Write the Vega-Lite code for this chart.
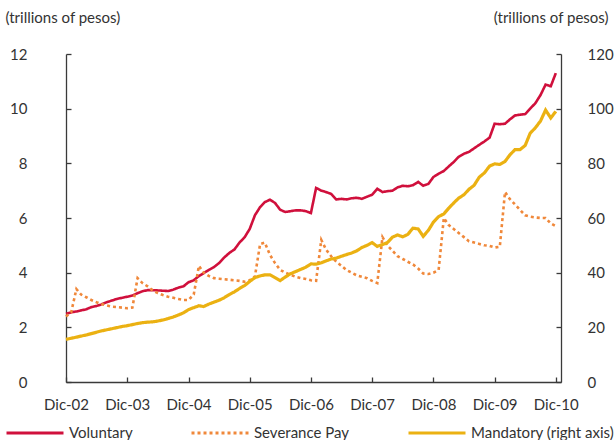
{
  "$schema": "https://vega.github.io/schema/vega-lite/v6.json",
  "width": 495,
  "height": 328,
  "autosize": {"type": "none"},
  "padding": {"left": 66, "top": 54, "right": 55, "bottom": 58},
  "config": {
    "font": "Lato",
    "view": {"stroke": null},
    "axis": {
      "grid": false,
      "domainColor": "#3a3a3a",
      "tickColor": "#3a3a3a",
      "domainWidth": 1.3,
      "tickWidth": 1.3,
      "labelColor": "#333333",
      "labelFont": "Lato",
      "labelFontSize": 15,
      "titleFont": "Lato",
      "titleFontSize": 15,
      "titleFontWeight": "normal",
      "titleColor": "#333333"
    },
    "legend": {
      "orient": "none",
      "legendX": -61,
      "legendY": 349,
      "direction": "horizontal",
      "columns": 3,
      "gridAlign": "none",
      "columnPadding": 52,
      "symbolType": "stroke",
      "symbolSize": 3249,
      "symbolStrokeWidth": 3,
      "labelFont": "Lato",
      "labelFontSize": 15,
      "labelColor": "#333333",
      "labelOffset": 4,
      "labelLimit": 300
    }
  },
  "data": {
    "values": [
      {"date": "2002-12-01", "Voluntary": 2.50, "Severance Pay": 2.40, "Mandatory (right axis)": 15.6},
      {"date": "2003-01-01", "Voluntary": 2.55, "Severance Pay": 2.55, "Mandatory (right axis)": 16.0},
      {"date": "2003-02-01", "Voluntary": 2.58, "Severance Pay": 3.40, "Mandatory (right axis)": 16.4},
      {"date": "2003-03-01", "Voluntary": 2.62, "Severance Pay": 3.20, "Mandatory (right axis)": 16.8},
      {"date": "2003-04-01", "Voluntary": 2.66, "Severance Pay": 3.10, "Mandatory (right axis)": 17.2},
      {"date": "2003-05-01", "Voluntary": 2.74, "Severance Pay": 3.00, "Mandatory (right axis)": 17.7},
      {"date": "2003-06-01", "Voluntary": 2.78, "Severance Pay": 2.92, "Mandatory (right axis)": 18.2},
      {"date": "2003-07-01", "Voluntary": 2.84, "Severance Pay": 2.85, "Mandatory (right axis)": 18.7},
      {"date": "2003-08-01", "Voluntary": 2.92, "Severance Pay": 2.80, "Mandatory (right axis)": 19.1},
      {"date": "2003-09-01", "Voluntary": 2.98, "Severance Pay": 2.76, "Mandatory (right axis)": 19.5},
      {"date": "2003-10-01", "Voluntary": 3.04, "Severance Pay": 2.74, "Mandatory (right axis)": 19.9},
      {"date": "2003-11-01", "Voluntary": 3.08, "Severance Pay": 2.72, "Mandatory (right axis)": 20.3},
      {"date": "2003-12-01", "Voluntary": 3.12, "Severance Pay": 2.70, "Mandatory (right axis)": 20.6},
      {"date": "2004-01-01", "Voluntary": 3.16, "Severance Pay": 2.72, "Mandatory (right axis)": 21.0},
      {"date": "2004-02-01", "Voluntary": 3.25, "Severance Pay": 3.80, "Mandatory (right axis)": 21.4},
      {"date": "2004-03-01", "Voluntary": 3.32, "Severance Pay": 3.62, "Mandatory (right axis)": 21.7},
      {"date": "2004-04-01", "Voluntary": 3.36, "Severance Pay": 3.50, "Mandatory (right axis)": 21.9},
      {"date": "2004-05-01", "Voluntary": 3.36, "Severance Pay": 3.35, "Mandatory (right axis)": 22.0},
      {"date": "2004-06-01", "Voluntary": 3.35, "Severance Pay": 3.25, "Mandatory (right axis)": 22.3},
      {"date": "2004-07-01", "Voluntary": 3.34, "Severance Pay": 3.18, "Mandatory (right axis)": 22.7},
      {"date": "2004-08-01", "Voluntary": 3.33, "Severance Pay": 3.12, "Mandatory (right axis)": 23.2},
      {"date": "2004-09-01", "Voluntary": 3.38, "Severance Pay": 3.08, "Mandatory (right axis)": 23.8},
      {"date": "2004-10-01", "Voluntary": 3.45, "Severance Pay": 3.04, "Mandatory (right axis)": 24.5},
      {"date": "2004-11-01", "Voluntary": 3.50, "Severance Pay": 3.00, "Mandatory (right axis)": 25.3},
      {"date": "2004-12-01", "Voluntary": 3.65, "Severance Pay": 3.00, "Mandatory (right axis)": 26.5},
      {"date": "2005-01-01", "Voluntary": 3.72, "Severance Pay": 3.20, "Mandatory (right axis)": 27.2},
      {"date": "2005-02-01", "Voluntary": 3.88, "Severance Pay": 4.25, "Mandatory (right axis)": 27.9},
      {"date": "2005-03-01", "Voluntary": 3.98, "Severance Pay": 4.00, "Mandatory (right axis)": 27.6},
      {"date": "2005-04-01", "Voluntary": 4.10, "Severance Pay": 3.88, "Mandatory (right axis)": 28.5},
      {"date": "2005-05-01", "Voluntary": 4.20, "Severance Pay": 3.80, "Mandatory (right axis)": 29.2},
      {"date": "2005-06-01", "Voluntary": 4.35, "Severance Pay": 3.78, "Mandatory (right axis)": 29.9},
      {"date": "2005-07-01", "Voluntary": 4.55, "Severance Pay": 3.76, "Mandatory (right axis)": 30.8},
      {"date": "2005-08-01", "Voluntary": 4.72, "Severance Pay": 3.74, "Mandatory (right axis)": 32.0},
      {"date": "2005-09-01", "Voluntary": 4.85, "Severance Pay": 3.72, "Mandatory (right axis)": 33.0},
      {"date": "2005-10-01", "Voluntary": 5.10, "Severance Pay": 3.70, "Mandatory (right axis)": 34.2},
      {"date": "2005-11-01", "Voluntary": 5.30, "Severance Pay": 3.67, "Mandatory (right axis)": 35.3},
      {"date": "2005-12-01", "Voluntary": 5.60, "Severance Pay": 3.72, "Mandatory (right axis)": 36.8},
      {"date": "2006-01-01", "Voluntary": 6.10, "Severance Pay": 3.86, "Mandatory (right axis)": 38.2},
      {"date": "2006-02-01", "Voluntary": 6.40, "Severance Pay": 5.05, "Mandatory (right axis)": 38.8},
      {"date": "2006-03-01", "Voluntary": 6.58, "Severance Pay": 5.10, "Mandatory (right axis)": 39.2},
      {"date": "2006-04-01", "Voluntary": 6.67, "Severance Pay": 4.65, "Mandatory (right axis)": 39.2},
      {"date": "2006-05-01", "Voluntary": 6.55, "Severance Pay": 4.35, "Mandatory (right axis)": 38.2},
      {"date": "2006-06-01", "Voluntary": 6.30, "Severance Pay": 4.10, "Mandatory (right axis)": 37.1},
      {"date": "2006-07-01", "Voluntary": 6.22, "Severance Pay": 4.00, "Mandatory (right axis)": 38.4},
      {"date": "2006-08-01", "Voluntary": 6.25, "Severance Pay": 3.92, "Mandatory (right axis)": 39.6},
      {"date": "2006-09-01", "Voluntary": 6.28, "Severance Pay": 3.85, "Mandatory (right axis)": 40.4},
      {"date": "2006-10-01", "Voluntary": 6.28, "Severance Pay": 3.80, "Mandatory (right axis)": 41.2},
      {"date": "2006-11-01", "Voluntary": 6.25, "Severance Pay": 3.77, "Mandatory (right axis)": 42.0},
      {"date": "2006-12-01", "Voluntary": 6.18, "Severance Pay": 3.72, "Mandatory (right axis)": 43.2},
      {"date": "2007-01-01", "Voluntary": 7.10, "Severance Pay": 3.70, "Mandatory (right axis)": 43.1},
      {"date": "2007-02-01", "Voluntary": 7.00, "Severance Pay": 5.20, "Mandatory (right axis)": 43.6},
      {"date": "2007-03-01", "Voluntary": 6.95, "Severance Pay": 4.85, "Mandatory (right axis)": 44.3},
      {"date": "2007-04-01", "Voluntary": 6.88, "Severance Pay": 4.60, "Mandatory (right axis)": 45.0},
      {"date": "2007-05-01", "Voluntary": 6.68, "Severance Pay": 4.40, "Mandatory (right axis)": 45.3},
      {"date": "2007-06-01", "Voluntary": 6.70, "Severance Pay": 4.25, "Mandatory (right axis)": 46.0},
      {"date": "2007-07-01", "Voluntary": 6.68, "Severance Pay": 4.10, "Mandatory (right axis)": 46.6},
      {"date": "2007-08-01", "Voluntary": 6.72, "Severance Pay": 4.00, "Mandatory (right axis)": 47.2},
      {"date": "2007-09-01", "Voluntary": 6.74, "Severance Pay": 3.90, "Mandatory (right axis)": 48.0},
      {"date": "2007-10-01", "Voluntary": 6.70, "Severance Pay": 3.85, "Mandatory (right axis)": 49.2},
      {"date": "2007-11-01", "Voluntary": 6.78, "Severance Pay": 3.80, "Mandatory (right axis)": 50.0},
      {"date": "2007-12-01", "Voluntary": 6.85, "Severance Pay": 3.70, "Mandatory (right axis)": 51.0},
      {"date": "2008-01-01", "Voluntary": 7.07, "Severance Pay": 3.62, "Mandatory (right axis)": 49.6},
      {"date": "2008-02-01", "Voluntary": 6.95, "Severance Pay": 5.30, "Mandatory (right axis)": 50.3},
      {"date": "2008-03-01", "Voluntary": 6.98, "Severance Pay": 5.00, "Mandatory (right axis)": 51.0},
      {"date": "2008-04-01", "Voluntary": 7.00, "Severance Pay": 4.80, "Mandatory (right axis)": 53.0},
      {"date": "2008-05-01", "Voluntary": 7.12, "Severance Pay": 4.60, "Mandatory (right axis)": 53.8},
      {"date": "2008-06-01", "Voluntary": 7.18, "Severance Pay": 4.50, "Mandatory (right axis)": 53.1},
      {"date": "2008-07-01", "Voluntary": 7.16, "Severance Pay": 4.40, "Mandatory (right axis)": 54.0},
      {"date": "2008-08-01", "Voluntary": 7.20, "Severance Pay": 4.30, "Mandatory (right axis)": 56.3},
      {"date": "2008-09-01", "Voluntary": 7.32, "Severance Pay": 4.15, "Mandatory (right axis)": 56.0},
      {"date": "2008-10-01", "Voluntary": 7.18, "Severance Pay": 3.97, "Mandatory (right axis)": 53.3},
      {"date": "2008-11-01", "Voluntary": 7.25, "Severance Pay": 3.95, "Mandatory (right axis)": 55.5},
      {"date": "2008-12-01", "Voluntary": 7.50, "Severance Pay": 4.00, "Mandatory (right axis)": 58.5},
      {"date": "2009-01-01", "Voluntary": 7.62, "Severance Pay": 4.10, "Mandatory (right axis)": 60.5},
      {"date": "2009-02-01", "Voluntary": 7.72, "Severance Pay": 6.00, "Mandatory (right axis)": 61.5},
      {"date": "2009-03-01", "Voluntary": 7.88, "Severance Pay": 5.75, "Mandatory (right axis)": 63.5},
      {"date": "2009-04-01", "Voluntary": 8.05, "Severance Pay": 5.60, "Mandatory (right axis)": 65.5},
      {"date": "2009-05-01", "Voluntary": 8.24, "Severance Pay": 5.45, "Mandatory (right axis)": 67.3},
      {"date": "2009-06-01", "Voluntary": 8.35, "Severance Pay": 5.30, "Mandatory (right axis)": 68.5},
      {"date": "2009-07-01", "Voluntary": 8.42, "Severance Pay": 5.15, "Mandatory (right axis)": 70.5},
      {"date": "2009-08-01", "Voluntary": 8.55, "Severance Pay": 5.10, "Mandatory (right axis)": 72.0},
      {"date": "2009-09-01", "Voluntary": 8.68, "Severance Pay": 5.05, "Mandatory (right axis)": 75.0},
      {"date": "2009-10-01", "Voluntary": 8.80, "Severance Pay": 5.00, "Mandatory (right axis)": 76.5},
      {"date": "2009-11-01", "Voluntary": 8.94, "Severance Pay": 4.98, "Mandatory (right axis)": 79.0},
      {"date": "2009-12-01", "Voluntary": 9.45, "Severance Pay": 4.92, "Mandatory (right axis)": 79.8},
      {"date": "2010-01-01", "Voluntary": 9.43, "Severance Pay": 4.95, "Mandatory (right axis)": 79.6},
      {"date": "2010-02-01", "Voluntary": 9.45, "Severance Pay": 6.95, "Mandatory (right axis)": 80.7},
      {"date": "2010-03-01", "Voluntary": 9.60, "Severance Pay": 6.70, "Mandatory (right axis)": 83.0},
      {"date": "2010-04-01", "Voluntary": 9.75, "Severance Pay": 6.50, "Mandatory (right axis)": 85.0},
      {"date": "2010-05-01", "Voluntary": 9.78, "Severance Pay": 6.30, "Mandatory (right axis)": 85.0},
      {"date": "2010-06-01", "Voluntary": 9.80, "Severance Pay": 6.10, "Mandatory (right axis)": 86.5},
      {"date": "2010-07-01", "Voluntary": 10.00, "Severance Pay": 6.05, "Mandatory (right axis)": 91.0},
      {"date": "2010-08-01", "Voluntary": 10.20, "Severance Pay": 6.02, "Mandatory (right axis)": 93.0},
      {"date": "2010-09-01", "Voluntary": 10.50, "Severance Pay": 6.00, "Mandatory (right axis)": 95.5},
      {"date": "2010-10-01", "Voluntary": 10.88, "Severance Pay": 6.00, "Mandatory (right axis)": 99.5},
      {"date": "2010-11-01", "Voluntary": 10.82, "Severance Pay": 5.80, "Mandatory (right axis)": 96.6},
      {"date": "2010-12-01", "Voluntary": 11.30, "Severance Pay": 5.70, "Mandatory (right axis)": 99.0}
    ]
  },
  "encoding": {
    "x": {
      "field": "date",
      "type": "temporal",
      "scale": {
        "type": "utc",
        "domain": [
          {"year": 2002, "month": 12, "date": 1, "utc": true},
          {"year": 2011, "month": 1, "date": 1, "utc": true}
        ]
      },
      "axis": {
        "title": null,
        "values": [
          {"year": 2002, "month": 12, "date": 1, "utc": true},
          {"year": 2003, "month": 12, "date": 1, "utc": true},
          {"year": 2004, "month": 12, "date": 1, "utc": true},
          {"year": 2005, "month": 12, "date": 1, "utc": true},
          {"year": 2006, "month": 12, "date": 1, "utc": true},
          {"year": 2007, "month": 12, "date": 1, "utc": true},
          {"year": 2008, "month": 12, "date": 1, "utc": true},
          {"year": 2009, "month": 12, "date": 1, "utc": true},
          {"year": 2010, "month": 12, "date": 1, "utc": true}
        ],
        "labelExpr": "'Dic-' + utcFormat(datum.value, '%y')",
        "tickSize": -5,
        "labelPadding": 20,
        "labelFlush": false,
        "labelOverlap": false
      }
    }
  },
  "layer": [
    {
      "transform": [{"fold": ["Voluntary", "Severance Pay"], "as": ["series", "value"]}],
      "mark": {"type": "line", "strokeWidth": 2.6, "strokeCap": "butt"},
      "encoding": {
        "y": {
          "field": "value",
          "type": "quantitative",
          "scale": {"domain": [0, 12], "nice": false, "zero": true},
          "axis": {
            "orient": "left",
            "values": [0, 2, 4, 6, 8, 10, 12],
            "tickSize": -5,
            "labelPadding": 44,
            "labelAlign": "right",
            "title": "(trillions of pesos)",
            "titleAngle": 0,
            "titleAlign": "left",
            "titleBaseline": "alphabetic",
            "titleAnchor": null,
            "titleX": -61,
            "titleY": -32
          }
        },
        "color": {
          "field": "series",
          "type": "nominal",
          "scale": {
            "domain": ["Voluntary", "Severance Pay", "Mandatory (right axis)"],
            "range": ["#D0103C", "#F0883A", "#EBB112"]
          },
          "legend": {"title": null}
        },
        "strokeDash": {
          "field": "series",
          "type": "nominal",
          "scale": {
            "domain": ["Voluntary", "Severance Pay", "Mandatory (right axis)"],
            "range": [[1, 0], [3, 3], [1, 0]]
          },
          "legend": {"title": null}
        }
      }
    },
    {
      "transform": [{"fold": ["Mandatory (right axis)"], "as": ["series", "value"]}],
      "mark": {"type": "line", "strokeWidth": 3.2},
      "encoding": {
        "y": {
          "field": "value",
          "type": "quantitative",
          "scale": {"domain": [0, 120], "nice": false, "zero": true},
          "axis": {
            "orient": "right",
            "values": [0, 20, 40, 60, 80, 100, 120],
            "tickSize": -5,
            "labelPadding": 31,
            "labelAlign": "left",
            "title": "(trillions of pesos)",
            "titleAngle": 0,
            "titleAlign": "right",
            "titleBaseline": "alphabetic",
            "titleAnchor": null,
            "titleX": 47,
            "titleY": -32
          }
        },
        "color": {
          "field": "series",
          "type": "nominal",
          "legend": {"title": null}
        },
        "strokeDash": {
          "field": "series",
          "type": "nominal",
          "legend": {"title": null}
        }
      }
    }
  ],
  "resolve": {"scale": {"y": "independent"}}
}
